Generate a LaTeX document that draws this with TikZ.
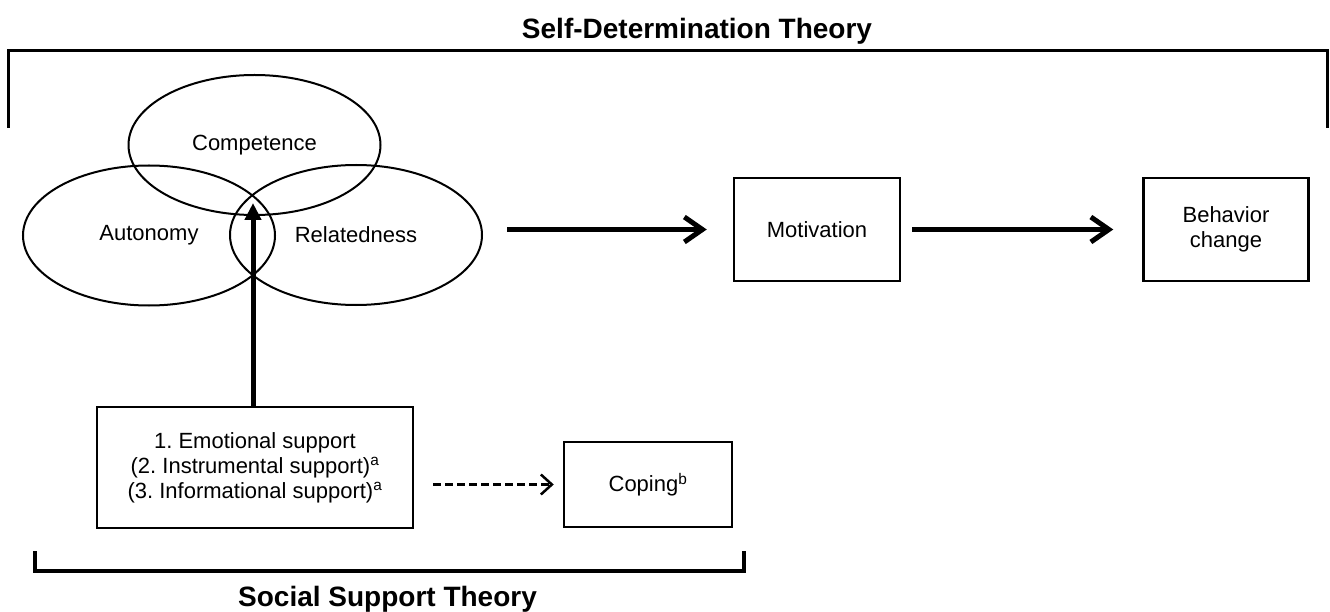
\documentclass[tikz,border=0pt]{standalone}
\usepackage{fontspec}
\setmainfont{Liberation Sans}
\usetikzlibrary{positioning, arrows.meta, shapes.geometric}
\tikzset{
  need/.style={
    draw,
    ellipse,
    line width=2pt,
    minimum width=252pt,
    minimum height=140pt,
    inner sep=0pt
  },
  block/.style={
    draw,
    rectangle,
    line width=2.5pt,
    align=center,
    inner sep=0pt
  },
  push/.style={
    line width=5pt,
    -{Straight Barb[length=18pt, width=25pt]}
  },
  maybe/.style={
    line width=2.5pt,
    dash pattern=on 8pt off 4pt,
    -{Straight Barb[length=11pt, width=20pt]}
  },
  theory/.style={
    font=\fontsize{28}{32}\selectfont\bfseries,
    anchor=base
  }
}
\begin{document}
\begin{tikzpicture}[x=1pt, y=-1pt, font=\fontsize{22}{25}\selectfont]
    \useasboundingbox (0,0) rectangle (1330,612);

    % basic needs
    \node[need] (comp) at (254.5,145) {Competence};
    \node[need] (auto) at (149,235.5) {Autonomy};
    \node[need] (rel) at (356,235) {Relatedness};
    \coordinate (meet) at (253,203);

    \node[block, minimum width=166pt, minimum height=103pt] (motiv) at (817,229.5) {Motivation};
    \node[block, minimum width=165pt, minimum height=103pt, right=241pt of motiv] (behav) {Behavior\\change};

    \node[block, minimum width=316pt, minimum height=121pt] (support) at (255,467.5)
        {1.\ Emotional support\\(2.\ Instrumental support)\textsuperscript{a}\\(3.\ Informational support)\textsuperscript{a}};
    \node[block, minimum width=168pt, minimum height=85pt] (coping) at (648,484.5) {Coping\textsuperscript{b}};

    \draw[push, shorten <=24pt, shorten >=26pt] (rel.east |- motiv.west) -- (motiv.west);
    \draw[push, shorten <=11pt, shorten >=29pt] (motiv.east) -- (behav.west);
    \draw[line width=5pt, -{Triangle[length=17pt, width=16pt]}] (support.north -| meet) -- (meet);
    \draw[maybe, shorten <=19pt, shorten >=9pt] (support.east |- coping.west) -- (coping.west);

    % theory brackets
    \node[theory] (sdt) at (697,39) {Self-Determination Theory};
    \draw[line width=3pt] (8,128) -- (8,51) -- (1327,51) -- (1327,128);
    \node[theory] (sst) at (387.5,606) {Social Support Theory};
    \draw[line width=4.5pt] (35,551) -- (35,571) -- (744,571) -- (744,551);
\end{tikzpicture}
\end{document}
